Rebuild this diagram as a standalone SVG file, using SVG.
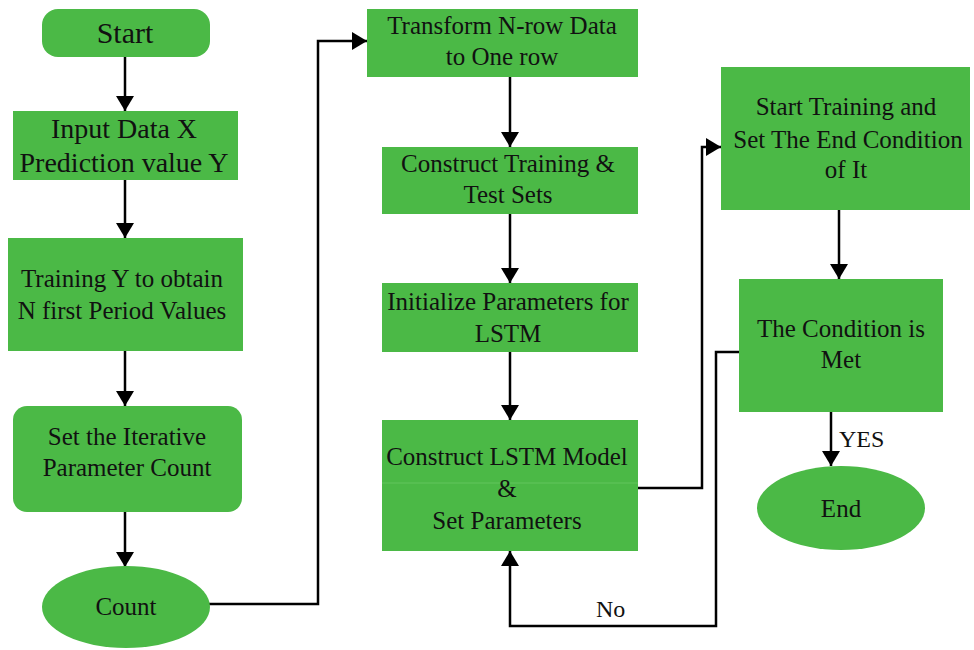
<svg xmlns="http://www.w3.org/2000/svg" width="974" height="650" viewBox="0 0 974 650">
<style>
.box{fill:#4bb946;}
.t{font-family:"Liberation Serif","Times New Roman",serif;font-size:25px;fill:#111;text-anchor:middle;}
.lbl{font-family:"Liberation Serif","Times New Roman",serif;font-size:24px;fill:#111;}
.c{fill:none;stroke:#000;stroke-width:2.5;}
</style>
<defs>
<marker id="ah" markerUnits="userSpaceOnUse" markerWidth="15" markerHeight="18" refX="15" refY="9" orient="auto">
<path d="M0,0 L15,9 L0,18 z" fill="#000"/>
</marker>
</defs>
<rect width="974" height="650" fill="#fff"/>
<g id="connectors">
<path class="c" d="M125,57 V111" marker-end="url(#ah)"/>
<path class="c" d="M125,180 V238" marker-end="url(#ah)"/>
<path class="c" d="M125,351 V406" marker-end="url(#ah)"/>
<path class="c" d="M125,512 V567" marker-end="url(#ah)"/>
<path class="c" d="M209,604 H318 V41 H367" marker-end="url(#ah)"/>
<path class="c" d="M510,77 V147" marker-end="url(#ah)"/>
<path class="c" d="M510,214 V283" marker-end="url(#ah)"/>
<path class="c" d="M510,352 V420" marker-end="url(#ah)"/>
<path class="c" d="M638,488 H702 V147 H721" marker-end="url(#ah)"/>
<path class="c" d="M839,210 V279" marker-end="url(#ah)"/>
<path class="c" d="M831,412 V466" marker-end="url(#ah)"/>
<path class="c" d="M739,352 H716 V626 H510 V551" marker-end="url(#ah)"/>
<text class="lbl" x="839" y="447">YES</text>
<text class="lbl" x="596" y="617">No</text>
</g>
<g id="start">
<rect class="box" x="42" y="9" width="168" height="48" rx="16"/>
<text class="t" x="125" y="43" style="font-size:30px">Start</text>
</g>
<g id="input">
<rect class="box" x="13" y="111" width="225" height="69"/>
<text class="t" x="124" y="138" style="font-size:28px">Input Data X</text>
<text class="t" x="124" y="172" style="font-size:28px">Prediction value Y</text>
</g>
<g id="training">
<rect class="box" x="8" y="238" width="235" height="113"/>
<text class="t" x="122" y="287">Training Y to obtain</text>
<text class="t" x="122" y="319">N first Period Values</text>
</g>
<g id="setiter">
<rect class="box" x="13" y="406" width="229" height="106" rx="14"/>
<text class="t" x="127" y="445">Set the Iterative</text>
<text class="t" x="127" y="476">Parameter Count</text>
</g>
<g id="count">
<ellipse class="box" cx="126" cy="607" rx="84" ry="41"/>
<text class="t" x="126" y="615">Count</text>
</g>
<g id="transform">
<rect class="box" x="367" y="9" width="271" height="68"/>
<text class="t" x="502" y="34">Transform N-row Data</text>
<text class="t" x="502" y="65">to One row</text>
</g>
<g id="sets">
<rect class="box" x="382" y="147" width="256" height="67"/>
<text class="t" x="508" y="172">Construct Training &amp;</text>
<text class="t" x="508" y="203">Test Sets</text>
</g>
<g id="init">
<rect class="box" x="382" y="283" width="256" height="69"/>
<text class="t" x="508" y="310">Initialize Parameters for</text>
<text class="t" x="508" y="342">LSTM</text>
</g>
<g id="model">
<rect class="box" x="382" y="420" width="256" height="131"/>
<line x1="382" y1="483" x2="638" y2="483" stroke="#62c55c" stroke-width="1"/>
<text class="t" x="507" y="465">Construct LSTM Model</text>
<text class="t" x="507" y="497">&amp;</text>
<text class="t" x="507" y="529">Set Parameters</text>
</g>
<g id="starttrain">
<rect class="box" x="721" y="67" width="249" height="143"/>
<text class="t" x="846" y="115">Start Training and</text>
<text class="t" x="848" y="148">Set The End Condition</text>
<text class="t" x="846" y="178">of It</text>
</g>
<g id="condition">
<rect class="box" x="739" y="279" width="204" height="133"/>
<text class="t" x="841" y="337">The Condition is</text>
<text class="t" x="841" y="368">Met</text>
</g>
<g id="end">
<ellipse class="box" cx="841" cy="508" rx="84" ry="42"/>
<text class="t" x="841" y="517">End</text>
</g>
</svg>
